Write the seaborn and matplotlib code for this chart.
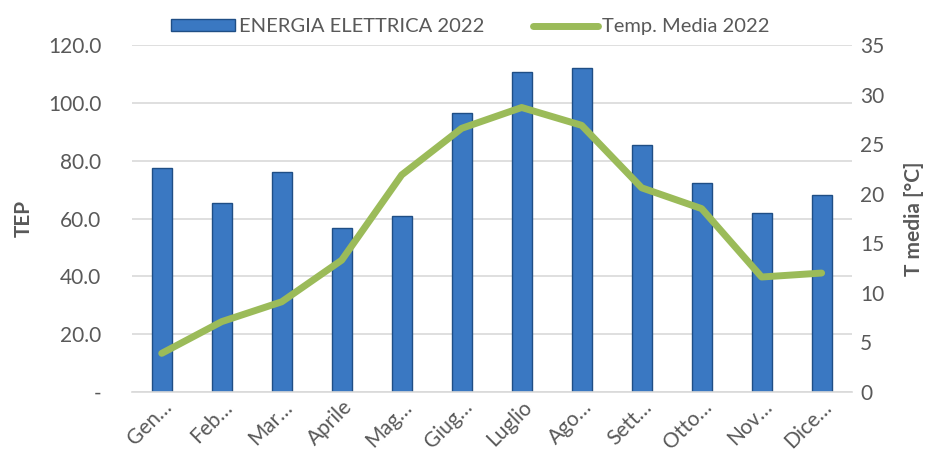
import matplotlib
matplotlib.use("Agg")
import matplotlib.pyplot as plt
import numpy as np
import pandas as pd
import seaborn as sns
from matplotlib.lines import Line2D
from matplotlib.patches import Patch
from matplotlib.ticker import FuncFormatter, MultipleLocator

sns.set_style("white")
plt.rcParams["font.family"] = ["Lato", "DejaVu Sans"]

MONTHS = ["Gen…", "Feb…", "Mar…", "Aprile", "Mag…", "Giug…",
          "Luglio", "Ago…", "Sett…", "Otto…", "Nov…", "Dice…"]
ENERGIA = [77.5, 65.4, 76.1, 56.7, 60.9, 96.5, 110.7, 112.0, 85.4, 72.3, 61.9, 68.1]
TEMP = [3.9, 7.1, 9.1, 13.3, 21.9, 26.6, 28.7, 26.9, 20.6, 18.5, 11.6, 12.0]

BAR_LABEL = "ENERGIA ELETTRICA 2022"
LINE_LABEL = "Temp. Media 2022"
TEXT = "#595959"
BLUE = "#3A78C2"
GREEN = "#9BBB59"

df = pd.DataFrame({"mese": MONTHS, "tep": ENERGIA, "temp": TEMP})

fig = plt.figure(figsize=(9.41, 4.62), dpi=100)
ax = fig.add_axes([0.140, 0.1515, 0.765, 0.751])

sns.barplot(data=df, x="mese", y="tep", color=BLUE, width=0.33,
            edgecolor="#1F4E85", linewidth=1.0, saturation=1, ax=ax)
ax.set_ylim(0, 120)
ax.set_xlim(-0.5, len(MONTHS) - 0.5)
ax.yaxis.set_major_locator(MultipleLocator(20))
ax.yaxis.set_major_formatter(FuncFormatter(lambda v, p: "-" if v == 0 else f"{v:.1f}"))
ax.grid(axis="y", color="#D9D9D9", linewidth=1.2)
ax.set_axisbelow(True)
for s in ["top", "left", "right"]:
    ax.spines[s].set_visible(False)
ax.spines["bottom"].set_color("#D9D9D9")
ax.spines["bottom"].set_linewidth(1.2)
ax.tick_params(axis="y", length=0, labelsize=15, colors=TEXT, pad=22)
ax.tick_params(axis="x", length=0, labelsize=15, colors=TEXT)
plt.setp(ax.get_xticklabels(), rotation=45, ha="right", rotation_mode="anchor")
ax.set_xlabel("")
ax.set_ylabel("TEP", fontsize=15, fontweight="bold", color=TEXT, labelpad=10)

ax2 = ax.twinx()
sns.lineplot(x=np.arange(len(MONTHS)), y=df["temp"], color=GREEN, linewidth=5,
             ax=ax2, legend=False)
ax2.set_ylim(0, 35)
ax2.yaxis.set_major_locator(MultipleLocator(5))
for s in ["top", "left", "right", "bottom"]:
    ax2.spines[s].set_visible(False)
ax2.tick_params(axis="y", length=0, labelsize=15, colors=TEXT, pad=6)
ax2.set_ylabel("T media [°C]", fontsize=15, fontweight="bold", color=TEXT, labelpad=14)

handles = [Patch(facecolor=BLUE, edgecolor="#1F4E85", label=BAR_LABEL),
           Line2D([0], [0], color=GREEN, linewidth=5, label=LINE_LABEL)]
ax.legend(handles=handles, loc="lower center", bbox_to_anchor=(0.47, 1.0), ncol=2,
          frameon=False, fontsize=14.5, labelcolor=TEXT, handlelength=3.2,
          handleheight=0.5, columnspacing=2.4, handletextpad=0.2, borderaxespad=0.1)

fig.savefig("out.png", dpi=100)
